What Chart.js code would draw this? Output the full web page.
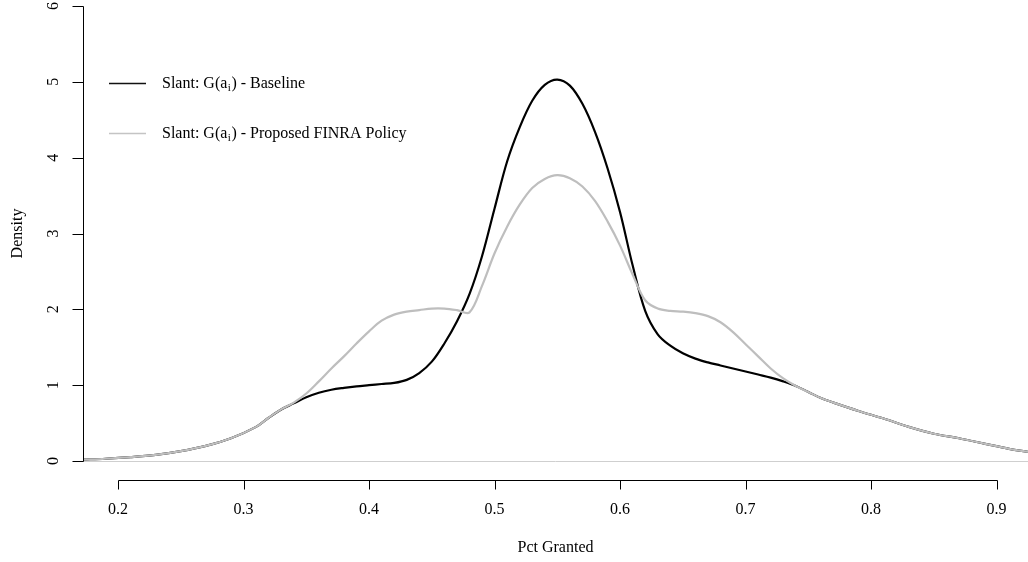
<!DOCTYPE html>
<html>
<head>
<meta charset="utf-8">
<script src="https://cdn.jsdelivr.net/npm/chart.js@4/dist/chart.umd.min.js"></script>
<style>
  html, body { margin: 0; padding: 0; background: #ffffff; }
  #wrap { width: 1028px; height: 562px; position: relative; }
</style>
</head>
<body>
<div id="wrap"><canvas id="c" width="1028" height="562"></canvas></div>
<script>
// Kernel density estimates of the share of requests granted
const pctGranted = [
  0.172, 0.19, 0.21, 0.23, 0.25, 0.27, 0.29, 0.31, 0.32, 0.33,
  0.34, 0.35, 0.36, 0.37, 0.38, 0.39, 0.40, 0.41, 0.42, 0.43,
  0.44, 0.45, 0.46, 0.47, 0.48, 0.49, 0.50, 0.51, 0.52, 0.53,
  0.54, 0.55, 0.56, 0.57, 0.58, 0.59, 0.60, 0.61, 0.62, 0.63,
  0.64, 0.65, 0.66, 0.67, 0.68, 0.69, 0.70, 0.71, 0.72, 0.73,
  0.74, 0.75, 0.76, 0.77, 0.79, 0.81, 0.83, 0.85, 0.87, 0.89,
  0.91, 0.925
];
const baselineDensity = [
  0.02, 0.03, 0.05, 0.08, 0.13, 0.20, 0.30, 0.45, 0.57, 0.68,
  0.76, 0.84, 0.90, 0.94, 0.965, 0.985, 1.00, 1.015, 1.03, 1.07,
  1.16, 1.31, 1.55, 1.84, 2.20, 2.70, 3.33, 3.95, 4.40, 4.75,
  4.96, 5.03, 4.95, 4.71, 4.34, 3.86, 3.28, 2.58, 1.98, 1.67,
  1.52, 1.42, 1.35, 1.30, 1.26, 1.22, 1.18, 1.14, 1.10, 1.05,
  0.99, 0.91, 0.83, 0.77, 0.66, 0.56, 0.45, 0.36, 0.30, 0.23,
  0.16, 0.12
];
const policyDensity = [
  0.02, 0.03, 0.05, 0.08, 0.13, 0.20, 0.30, 0.45, 0.57, 0.68,
  0.77, 0.89, 1.05, 1.22, 1.38, 1.55, 1.71, 1.85, 1.93, 1.97,
  1.99, 2.01, 2.01, 1.99, 1.96, 2.31, 2.74, 3.09, 3.38, 3.60,
  3.72, 3.77, 3.73, 3.62, 3.43, 3.16, 2.84, 2.46, 2.12, 2.01,
  1.98, 1.97, 1.95, 1.91, 1.83, 1.70, 1.54, 1.38, 1.22, 1.09,
  0.99, 0.91, 0.83, 0.77, 0.66, 0.56, 0.45, 0.36, 0.30, 0.23,
  0.16, 0.12
];
const xTicks = [0.2, 0.3, 0.4, 0.5, 0.6, 0.7, 0.8, 0.9];
const yTicks = [0, 1, 2, 3, 4, 5, 6];
const xTitle = 'Pct Granted';
const yTitle = 'Density';
const legendItems = [
  { pre: 'Slant: G(a', sub: 'i', post: ') - Baseline', color: '#111111', width: 1.5 },
  { pre: 'Slant: G(a', sub: 'i', post: ') - Proposed FINRA Policy', color: '#c4c4c4', width: 1.3 }
];

const FONT = '"Liberation Serif", "Times New Roman", serif';

function toPoints(xs, ys) {
  return xs.map((x, i) => ({ x: x, y: ys[i] }));
}

// Base-graphics style axes, zero line and legend
const baseAxes = {
  id: 'baseAxes',
  beforeDatasetsDraw(chart) {
    const { ctx, chartArea, scales } = chart;
    const y0 = Math.round(scales.y.getPixelForValue(0)) + 0.5;
    ctx.save();
    ctx.strokeStyle = '#cfcfcf';
    ctx.lineWidth = 1;
    ctx.beginPath();
    ctx.moveTo(chartArea.left, y0);
    ctx.lineTo(chartArea.right, y0);
    ctx.stroke();
    ctx.restore();
  },
  afterDraw(chart) {
    const { ctx, chartArea, scales } = chart;
    const xs = scales.x, ys = scales.y;
    ctx.save();
    ctx.strokeStyle = '#000000';
    ctx.fillStyle = '#000000';
    ctx.lineWidth = 1;

    // y axis
    const ax = chartArea.left + 0.5;
    const yTop = Math.round(ys.getPixelForValue(yTicks[yTicks.length - 1])) + 0.5;
    const yBot = Math.round(ys.getPixelForValue(yTicks[0])) + 0.5;
    ctx.beginPath();
    ctx.moveTo(ax, yTop);
    ctx.lineTo(ax, yBot);
    yTicks.forEach(t => {
      const py = Math.round(ys.getPixelForValue(t)) + 0.5;
      ctx.moveTo(ax - 11, py);
      ctx.lineTo(ax, py);
    });
    ctx.stroke();

    ctx.font = '16px ' + FONT;
    ctx.textAlign = 'center';
    ctx.textBaseline = 'middle';
    yTicks.forEach(t => {
      const py = ys.getPixelForValue(t);
      ctx.save();
      ctx.translate(54, py);
      ctx.rotate(-Math.PI / 2);
      ctx.fillText(String(t), 0, 0);
      ctx.restore();
    });

    // x axis
    const ay = 480.5;
    const xl = Math.round(xs.getPixelForValue(xTicks[0])) + 0.5;
    const xr = Math.round(xs.getPixelForValue(xTicks[xTicks.length - 1])) + 0.5;
    ctx.beginPath();
    ctx.moveTo(xl, ay);
    ctx.lineTo(xr, ay);
    xTicks.forEach(t => {
      const px = Math.round(xs.getPixelForValue(t)) + 0.5;
      ctx.moveTo(px, ay);
      ctx.lineTo(px, ay + 9);
    });
    ctx.stroke();
    xTicks.forEach(t => {
      ctx.fillText(t.toFixed(1), xs.getPixelForValue(t), 510);
    });

    // axis titles
    const midX = (chartArea.left + chartArea.right) / 2;
    const midY = (chartArea.top + chartArea.bottom) / 2;
    ctx.fillText(xTitle, midX, 548);
    ctx.save();
    ctx.translate(17.5, midY);
    ctx.rotate(-Math.PI / 2);
    ctx.fillText(yTitle, 0, 0);
    ctx.restore();

    // legend
    ctx.textAlign = 'left';
    legendItems.forEach((item, i) => {
      const ly = 83.5 + i * 50;
      ctx.strokeStyle = item.color;
      ctx.lineWidth = item.width;
      ctx.beginPath();
      ctx.moveTo(109, ly);
      ctx.lineTo(146, ly);
      ctx.stroke();
      let tx = 162;
      ctx.font = '16px ' + FONT;
      ctx.fillText(item.pre, tx, ly);
      tx += ctx.measureText(item.pre).width;
      ctx.font = '11px ' + FONT;
      ctx.fillText(item.sub, tx + 0.5, ly + 5);
      tx += ctx.measureText(item.sub).width + 1;
      ctx.font = '16px ' + FONT;
      ctx.fillText(item.post, tx, ly);
    });
    ctx.restore();
  }
};

new Chart(document.getElementById('c'), {
  type: 'line',
  data: {
    datasets: [
      {
        label: 'Proposed FINRA Policy',
        data: toPoints(pctGranted, policyDensity),
        borderColor: '#bebebe',
        borderWidth: 2.2,
        pointRadius: 0,
        tension: 0.35,
        fill: false,
        order: 0
      },
      {
        label: 'Baseline',
        data: toPoints(pctGranted, baselineDensity),
        borderColor: '#000000',
        borderWidth: 2.2,
        pointRadius: 0,
        tension: 0.35,
        fill: false,
        order: 1
      }
    ]
  },
  options: {
    responsive: false,
    animation: false,
    devicePixelRatio: 1,
    layout: { padding: { left: 83, top: 6, right: 0, bottom: 101 } },
    scales: {
      x: { type: 'linear', min: 0.1721, max: 0.925, display: false },
      y: { type: 'linear', min: 0, max: 6, display: false }
    },
    plugins: { legend: { display: false }, tooltip: { enabled: false } }
  },
  plugins: [baseAxes]
});
</script>
</body>
</html>
